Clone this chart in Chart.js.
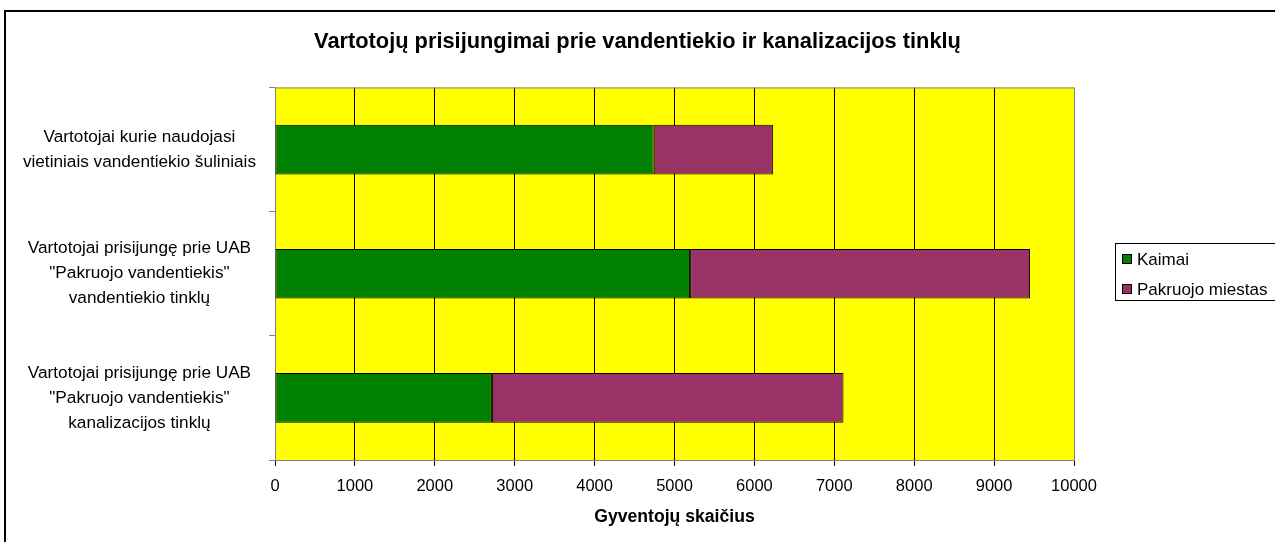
<!DOCTYPE html>
<html>
<head>
<meta charset="utf-8">
<script src="https://cdn.jsdelivr.net/npm/chart.js@4"></script>
<style>
  html, body { margin: 0; padding: 0; background: #fff; }
  canvas { display: block; }
</style>
</head>
<body>
<canvas id="grafikas" width="1275" height="542"></canvas>
<script>
// duomenys
const kategorijos = [
  ["Vartotojai kurie naudojasi", "vietiniais vandentiekio šuliniais"],
  ["Vartotojai prisijungę prie UAB", "\"Pakruojo vandentiekis\"", "vandentiekio tinklų"],
  ["Vartotojai prisijungę prie UAB", "\"Pakruojo vandentiekis\"", "kanalizacijos tinklų"]
];
const kaimai = [4740, 5195, 2715];
const miestas = [1495, 4255, 4400];
const xTickai = [0, 1000, 2000, 3000, 4000, 5000, 6000, 7000, 8000, 9000, 10000];

Chart.defaults.font.family = "'Liberation Sans', Arial, sans-serif";
Chart.defaults.color = "#000";

// fonas, rėmelis ir legenda
const piesimas = {
  id: "piesimas",
  beforeDraw(chart) {
    const { ctx, chartArea: a } = chart;
    ctx.save();
    ctx.fillStyle = "#fff";
    ctx.fillRect(0, 0, chart.width, chart.height);
    ctx.fillStyle = "#ffff00";
    ctx.fillRect(a.left, a.top, a.right - a.left, a.bottom - a.top);
    ctx.strokeStyle = "#000";
    ctx.lineWidth = 2;
    ctx.strokeRect(5, 11, 1400, 700);
    ctx.restore();
  },
  afterDraw(chart) {
    const { ctx, chartArea: a } = chart;
    ctx.save();
    // viršutinis kraštas
    ctx.strokeStyle = "#808080";
    ctx.lineWidth = 1;
    ctx.beginPath();
    ctx.moveTo(a.left, a.top + 0.5);
    ctx.lineTo(a.right, a.top + 0.5);
    ctx.stroke();
    // legenda
    ctx.strokeStyle = "#000";
    ctx.strokeRect(1115.5, 243.5, 200, 57);
    ctx.font = "17px 'Liberation Sans', Arial, sans-serif";
    ctx.textBaseline = "middle";
    chart.data.datasets.forEach((ds, i) => {
      const y = 259 + i * 30;
      ctx.fillStyle = ds.backgroundColor;
      ctx.fillRect(1122.5, y - 4.5, 9, 9);
      ctx.strokeRect(1122.5, y - 4.5, 9, 9);
      ctx.fillStyle = "#000";
      ctx.fillText(ds.label, 1137, y + 1);
    });
    ctx.restore();
  }
};

const krastas = v => (v === 0 || v === 10000) ? "#808080" : "#000";

new Chart(document.getElementById("grafikas"), {
  type: "bar",
  data: {
    labels: kategorijos,
    datasets: [
      { label: "Kaimai", data: kaimai, backgroundColor: "#008000",
        borderColor: "#000", borderWidth: 1, borderSkipped: false },
      { label: "Pakruojo miestas", data: miestas, backgroundColor: "#993366",
        borderColor: "#000", borderWidth: 1, borderSkipped: false }
    ]
  },
  options: {
    indexAxis: "y",
    responsive: false,
    animation: false,
    layout: { padding: 0 },
    datasets: { bar: { categoryPercentage: 1, barPercentage: 0.4 } },
    plugins: {
      legend: { display: false },
      tooltip: { enabled: false },
      title: {
        display: true,
        text: "Vartotojų prisijungimai prie vandentiekio ir kanalizacijos tinklų",
        font: { size: 21.8, weight: "bold" },
        color: "#000",
        padding: { top: 29, bottom: 32.3 }
      }
    },
    scales: {
      x: {
        stacked: true,
        min: 0,
        max: 10000,
        afterBuildTicks: s => { s.ticks = xTickai.map(v => ({ value: v })); },
        afterFit: s => { s.height = 82; },
        ticks: { font: { size: 16.5 }, padding: 11, color: "#000", callback: v => String(v) },
        grid: {
          color: c => krastas(c.tick ? c.tick.value : -1),
          tickColor: "#000",
          tickLength: 6
        },
        border: { color: "#808080" },
        title: {
          display: true,
          text: "Gyventojų skaičius",
          font: { size: 17.6, weight: "bold" },
          color: "#000",
          padding: { top: 0, bottom: 14 }
        }
      },
      y: {
        stacked: true,
        afterFit: s => { s.width = 275; },
        ticks: {
          crossAlign: "center",
          padding: 13,
          font: { size: 17.2, lineHeight: "25px" },
          color: "#000"
        },
        grid: {
          offset: true,
          drawOnChartArea: false,
          tickLength: 6,
          tickColor: "#808080"
        },
        border: { color: "#808080" }
      },
      // tuščia vieta legendai dešinėje
      tarpas: {
        type: "category",
        axis: "y",
        position: "right",
        afterFit: s => { s.width = 201; },
        ticks: { display: false },
        grid: { display: false },
        border: { display: false }
      }
    }
  },
  plugins: [piesimas]
});
</script>
</body>
</html>
